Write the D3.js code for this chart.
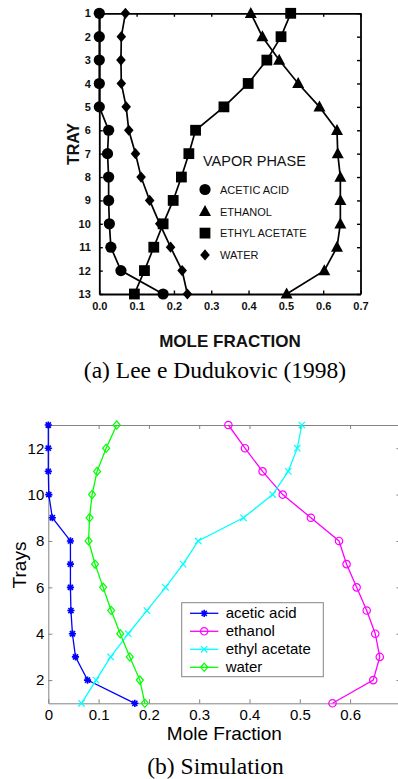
<!DOCTYPE html>
<html><head><meta charset="utf-8">
<script src="https://cdn.jsdelivr.net/npm/d3@7/dist/d3.min.js"></script>
<style>body{margin:0;background:#fff}svg{display:block}</style>
</head><body>
<svg id="c" width="398" height="779"></svg>
<script>
// ---------- data ----------
const trays = [1,2,3,4,5,6,7,8,9,10,11,12,13];
const seriesNames = ["acetic acid","ethanol","ethyl acetate","water"];
const legendTitleA = "VAPOR PHASE";
const legendNamesA = ["ACETIC ACID","ETHANOL","ETHYL ACETATE","WATER"];
const xTicksA = [0,0.1,0.2,0.3,0.4,0.5,0.6,0.7];
const xTicksB = [0,0.1,0.2,0.3,0.4,0.5,0.6,0.7];
const xTickLabelsB = ["0","0.1","0.2","0.3","0.4","0.5","0.6",""];
const yTicksB = [2,4,6,8,10,12];
const captionA = "(a) Lee e Dudukovic (1998)";
const captionB = "(b) Simulation";

// (a) Lee e Dudukovic (1998), vapor phase, tray 1..13
const aceticA  = [0.000,0.000,0.000,0.000,0.000,0.025,0.022,0.025,0.025,0.027,0.031,0.058,0.171];
const ethanolA = [0.406,0.437,0.482,0.533,0.590,0.637,0.639,0.646,0.646,0.646,0.637,0.603,0.502];
const ethylA   = [0.513,0.487,0.449,0.399,0.334,0.258,0.240,0.220,0.198,0.171,0.146,0.121,0.094];
const waterA   = [0.070,0.059,0.058,0.059,0.072,0.079,0.097,0.112,0.135,0.162,0.191,0.222,0.236];

// (b) Simulation, tray 1..13
const aceticB  = [0.172,0.078,0.054,0.048,0.045,0.044,0.044,0.044,0.008,0.001,0.000,0.000,0.000];
const ethanolB = [0.565,0.646,0.659,0.650,0.633,0.613,0.593,0.578,0.522,0.466,0.426,0.391,0.358];
const ethylB   = [0.066,0.095,0.124,0.159,0.196,0.233,0.268,0.298,0.388,0.446,0.477,0.495,0.504];
const waterB   = [0.192,0.182,0.162,0.143,0.125,0.109,0.093,0.080,0.082,0.087,0.097,0.115,0.136];

const colorsB = ["#0000ff","#ff00ff","#00ffff","#00ff00"];

// ---------- symbols ----------
const SYM = {
  circle: r => ({draw(c){c.moveTo(r,0);c.arc(0,0,r,0,2*Math.PI);c.closePath();}}),
  square: s => ({draw(c){c.rect(-s,-s,2*s,2*s);}}),
  triangle: (w,h) => ({draw(c){c.moveTo(0,-h*0.58);c.lineTo(w,h*0.42);c.lineTo(-w,h*0.42);c.closePath();}}),
  diamond: (w,h) => ({draw(c){c.moveTo(0,-h);c.lineTo(w,0);c.lineTo(0,h);c.lineTo(-w,0);c.closePath();}}),
  star: r => ({draw(c){const k=r*0.72;c.moveTo(-r,0);c.lineTo(r,0);c.moveTo(0,-r);c.lineTo(0,r);c.moveTo(-k,-k);c.lineTo(k,k);c.moveTo(-k,k);c.lineTo(k,-k);}}),
  cross: r => ({draw(c){c.moveTo(-r,-r);c.lineTo(r,r);c.moveTo(-r,r);c.lineTo(r,-r);}})
};
const symPath = t => d3.symbol().type(t)();

const svg = d3.select("#c");
const SANS = "'Liberation Sans', Arial, Helvetica, sans-serif";
const SERIF = "'Liberation Serif', 'Times New Roman', serif";

// ================= Panel (a) =================
const xA = d3.scaleLinear().domain([0,0.7]).range([99.3,360.5]);
const yA = d3.scaleLinear().domain([1,13]).range([13.3,294]);
const gA = svg.append("g");

const seriesA = [aceticA, ethanolA, ethylA, waterA];
const symA = [SYM.circle(5.6), SYM.triangle(6,11), SYM.square(5.4), SYM.diamond(4.8,5.6)];

// axes
const axA = [
  gA.append("g").attr("transform",`translate(0,${yA(13)})`).call(d3.axisBottom(xA).tickValues(xTicksA).tickFormat(d3.format(".1f")).tickSizeInner(-3.5).tickSizeOuter(0).tickPadding(8.5)),
  gA.append("g").attr("transform",`translate(0,${yA(1)})`).call(d3.axisTop(xA).tickValues(xTicksA).tickFormat("").tickSizeInner(-3.5).tickSizeOuter(0)),
  gA.append("g").attr("transform",`translate(${xA(0)},0)`).call(d3.axisLeft(yA).tickValues(trays).tickSizeInner(-3.5).tickSizeOuter(0).tickPadding(8.5)),
  gA.append("g").attr("transform",`translate(${xA(0.7)},0)`).call(d3.axisRight(yA).tickValues(trays).tickFormat("").tickSizeInner(-3.5).tickSizeOuter(0))
];
axA.forEach(a=>{
  a.select(".domain").attr("stroke","#000").attr("stroke-width",1.8);
  a.selectAll(".tick line").attr("stroke","#000").attr("stroke-width",1.4);
  a.selectAll("text").attr("fill","#111").style("font-family",SANS).style("font-weight","bold").style("font-size","11px");
});

// lines
const lineA = d3.line().x(d=>xA(d.v)).y(d=>yA(d.t));
seriesA.forEach((s,i)=>{
  const data = trays.map((t,j)=>({t, v:s[j]}));
  gA.append("path").datum(data).attr("d",lineA).attr("fill","none").attr("stroke","#000").attr("stroke-width",1.7);
  gA.selectAll(null).data(data).enter().append("path")
    .attr("d",symPath(symA[i])).attr("transform",d=>`translate(${xA(d.v)},${yA(d.t)})`)
    .attr("fill","#000");
});

// legend (a)
gA.append("text").attr("x",203).attr("y",166).text(legendTitleA)
  .style("font-family",SANS).style("font-size","14.5px").attr("fill","#111");
legendNamesA.forEach((n,i)=>{
  const y = 189.5 + i*21.8;
  gA.append("path").attr("d",symPath(symA[i])).attr("transform",`translate(205,${y})`).attr("fill","#000");
  gA.append("text").attr("x",220).attr("y",y+4.2).text(n)
    .style("font-family",SANS).style("font-size","11px").attr("fill","#111");
});

// axis labels (a)
gA.append("text").attr("x",230).attr("y",346.5).attr("text-anchor","middle").text("MOLE FRACTION")
  .style("font-family",SANS).style("font-weight","bold").style("font-size","17px").attr("fill","#111");
gA.append("text").attr("transform","translate(78.5,144) rotate(-90)").attr("text-anchor","middle").text("TRAY")
  .style("font-family",SANS).style("font-weight","bold").style("font-size","16px").attr("fill","#111");
svg.append("text").attr("x",215).attr("y",377.5).attr("text-anchor","middle").text(captionA)
  .style("font-family",SERIF).style("font-size","23.5px").attr("fill","#000");

// ================= Panel (b) =================
const xB = d3.scaleLinear().domain([0,0.7]).range([48.3,400.4]);
const yB = d3.scaleLinear().domain([1,13]).range([703.3,425]);
const gB = svg.append("g");
const GRAY = "#848484";

const axB = [
  gB.append("g").attr("transform",`translate(0,${yB(1)})`).call(d3.axisBottom(xB).tickValues(xTicksB).tickFormat((d,i)=>xTickLabelsB[i]).tickSizeInner(-4).tickSizeOuter(0).tickPadding(6)),
  gB.append("g").attr("transform",`translate(0,${yB(13)})`).call(d3.axisTop(xB).tickValues(xTicksB).tickFormat("").tickSizeInner(-4).tickSizeOuter(0)),
  gB.append("g").attr("transform",`translate(${xB(0)},0)`).call(d3.axisLeft(yB).tickValues(yTicksB).tickSizeInner(-4).tickSizeOuter(0).tickPadding(4)),
  gB.append("g").attr("transform",`translate(${xB(0.7)},0)`).call(d3.axisRight(yB).tickValues(yTicksB).tickFormat("").tickSizeInner(-4).tickSizeOuter(0))
];
axB.forEach(a=>{
  a.select(".domain").attr("stroke",GRAY).attr("stroke-width",1);
  a.selectAll(".tick line").attr("stroke",GRAY).attr("stroke-width",1);
  a.selectAll("text").attr("fill","#000").style("font-family",SANS).style("font-size","15px");
});

const seriesB = [aceticB, ethanolB, ethylB, waterB];
const symB = [SYM.star(3.6), SYM.circle(3.7), SYM.cross(3.2), SYM.diamond(3.5,4.1)];
const lineB = d3.line().x(d=>xB(d.v)).y(d=>yB(d.t));
seriesB.forEach((s,i)=>{
  const data = trays.map((t,j)=>({t, v:s[j]}));
  gB.append("path").datum(data).attr("d",lineB).attr("fill","none").attr("stroke",colorsB[i]).attr("stroke-width",1.3);
  gB.selectAll(null).data(data).enter().append("path")
    .attr("d",symPath(symB[i])).attr("transform",d=>`translate(${xB(d.v)},${yB(d.t)})`)
    .attr("fill","none").attr("stroke",colorsB[i]).attr("stroke-width",i===0?1.6:1.2);
});

// legend (b)
gB.append("rect").attr("x",181.7).attr("y",602.7).attr("width",141.6).attr("height",74)
  .attr("fill","#fff").attr("stroke",GRAY).attr("stroke-width",1);
seriesNames.forEach((n,i)=>{
  const y = 613.3 + i*18;
  gB.append("line").attr("x1",190).attr("x2",218.3).attr("y1",y).attr("y2",y).attr("stroke",colorsB[i]).attr("stroke-width",1.3);
  gB.append("path").attr("d",symPath(symB[i])).attr("transform",`translate(204.2,${y})`)
    .attr("fill","none").attr("stroke",colorsB[i]).attr("stroke-width",i===0?1.6:1.2);
  gB.append("text").attr("x",225.7).attr("y",y+5).text(n)
    .style("font-family",SANS).style("font-size","15px").attr("fill","#000");
});

gB.append("text").attr("x",224.4).attr("y",739.5).attr("text-anchor","middle").text("Mole Fraction")
  .style("font-family",SANS).style("font-size","19px").attr("fill","#000");
gB.append("text").attr("transform","translate(25.5,565) rotate(-90)").attr("text-anchor","middle").text("Trays")
  .style("font-family",SANS).style("font-size","19px").attr("fill","#000");
svg.append("text").attr("x",215.5).attr("y",773.5).attr("text-anchor","middle").text(captionB)
  .style("font-family",SERIF).style("font-size","23.5px").attr("fill","#000");
</script>
</body></html>
